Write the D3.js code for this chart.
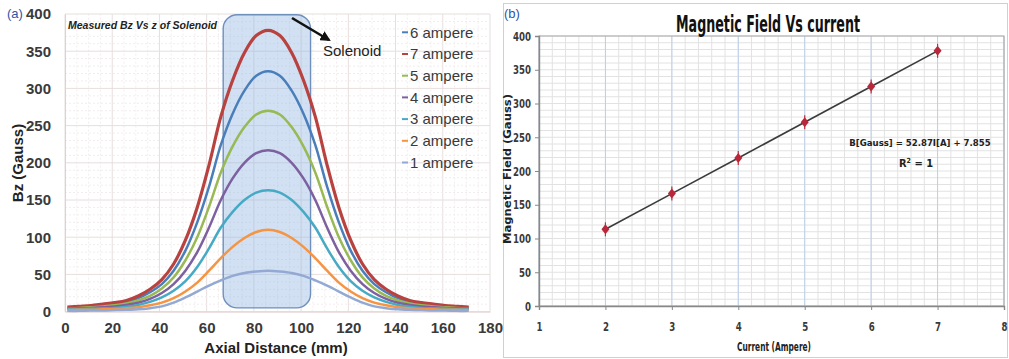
<!DOCTYPE html>
<html><head><meta charset="utf-8">
<script src="https://cdn.jsdelivr.net/npm/d3@7"></script>
<style>
body{margin:0;background:#fff;}
svg{display:block;}
</style></head>
<body>
<svg id="c" width="1009" height="359"></svg>
<script>
// ---------- Data: panel (a) ----------
const axialX = [1,6,11,16,21,26,31,36,41,46,51,56,61,66,71,76,81,86,91,96,101,106,111,116,121,126,131,136,141,146,151,156,161,166,171];
const amp6 = [5,6,7,8.5,10,13,18,26,37,55,82,120,168,224,266,297,317,323,317,297,266,224,168,120,82,55,37,26,18,13,10,8.5,7,6,5];
const amp7 = [6,7,8,10,12,15,21,30,43,64,96,140,197,262,311,348,371,378,371,348,311,262,197,140,96,64,43,30,21,15,12,10,8,7,6];
const amp5 = [4.5,5,6,7,8.5,11,15,21,31,46,69,100,141,187,222,248,265,270,265,248,222,187,141,100,69,46,31,21,15,11,8.5,7,6,5,4.5];
const amp4 = [4,4.5,5,6,7,9,12,17,25,37,55,80,113,150,179,200,213,217,213,200,179,150,113,80,55,37,25,17,12,9,7,6,5,4.5,4];
const amp3 = [3,3.5,4,4.5,5,6.5,9,13,19,28,41,60,85,113,134,150,160,163,160,150,134,113,85,60,41,28,19,13,9,6.5,5,4.5,4,3.5,3];
const amp2 = [2,2.5,2.5,3,3.5,4.5,6,8.5,12,18,27,39,55,72,87,99,107,110,107,99,87,72,55,39,27,18,12,8.5,6,4.5,3.5,3,2.5,2.5,2];
const amp1 = [1,1,1.5,1.5,2,2.5,3,4.5,7,12,19,27,35,42,48,52,54,55,54,52,48,42,35,27,19,12,7,4.5,3,2.5,2,1.5,1.5,1,1];
const seriesNames = ["6 ampere","7 ampere","5 ampere","4 ampere","3 ampere","2 ampere","1 ampere"];
const seriesValues = [amp6, amp7, amp5, amp4, amp3, amp2, amp1];
const seriesColors = ["#4a7ebb","#b8423f","#98b954","#7d60a0","#46aac5","#f59443","#93a9d3"];
const xTicksA = [0,20,40,60,80,100,120,140,160,180];
const yTicksA = [0,50,100,150,200,250,300,350,400];
const solenoidX = [67,104];
const solenoidY = [5,399];

// ---------- Data: panel (b) ----------
const currentA = [2,3,4,5,6,7];
const fieldG = [113.6,166.5,219.3,272.2,325.1,378.0];
const xTicksB = [1,2,3,4,5,6,7,8];
const yTicksB = [0,50,100,150,200,250,300,350,400];

const svg = d3.select("#c");
const fontA = "'Liberation Sans', Arial, sans-serif";
const fontB = "'Liberation Sans Narrow','DejaVu Sans Condensed','Liberation Sans',sans-serif";

// ================= Panel (a) =================
const xA = d3.scaleLinear().domain([0,180]).range([65,490]);
const yA = d3.scaleLinear().domain([0,400]).range([311.6,14]);
const gA = svg.append("g");

// grid
const minorX = d3.range(0,181,5), minorY = d3.range(0,401,10);
gA.append("g").selectAll("line").data(minorX).join("line")
  .attr("x1",d=>xA(d)).attr("x2",d=>xA(d)).attr("y1",yA(0)).attr("y2",yA(400))
  .attr("stroke",d=>d%20===0?"#e8dede":"#f2eded").attr("stroke-width",1).attr("stroke-dasharray",d=>d%20===0?null:"2,2");
gA.append("g").selectAll("line").data(minorY).join("line")
  .attr("x1",xA(0)).attr("x2",xA(180)).attr("y1",d=>yA(d)).attr("y2",d=>yA(d))
  .attr("stroke",d=>d%50===0?"#e8dede":"#f2eded").attr("stroke-width",1).attr("stroke-dasharray",d=>d%50===0?null:"2,2");

// solenoid box (behind the curves)
gA.append("rect")
  .attr("x",xA(solenoidX[0])).attr("y",yA(solenoidY[1]))
  .attr("width",xA(solenoidX[1])-xA(solenoidX[0])).attr("height",yA(solenoidY[0])-yA(solenoidY[1]))
  .attr("rx",14).attr("ry",14)
  .attr("fill","#8db4e2").attr("fill-opacity",0.4)
  .attr("stroke","#6f8fbd").attr("stroke-width",1.4);

// axes
const axA_x = gA.append("g").attr("transform",`translate(0,${yA(0)})`)
  .call(d3.axisBottom(xA).tickValues(xTicksA).tickSize(0).tickPadding(11));
const axA_y = gA.append("g").attr("transform",`translate(${xA(0)},0)`)
  .call(d3.axisLeft(yA).tickValues(yTicksA).tickSize(0).tickPadding(14));
[axA_x,axA_y].forEach(a=>{
  a.select(".domain").attr("stroke","#e3cfcf");
  a.selectAll("text").attr("font-family",fontA).attr("font-size",15).attr("font-weight","bold").attr("fill","#3a3a3a");
});

// lines
const lineA = d3.line().x((d,i)=>xA(axialX[i])).y(d=>yA(d)).curve(d3.curveCatmullRom);
gA.append("g").selectAll("path").data(seriesValues).join("path")
  .attr("d",d=>lineA(d)).attr("fill","none")
  .attr("stroke",(d,i)=>seriesColors[i]).attr("stroke-width",(d,i)=>i===1?3.2:2.5)
  .attr("stroke-linejoin","round");

// arrow
const defs = svg.append("defs");
defs.append("marker").attr("id","ah").attr("viewBox","0 0 10 10").attr("refX",8).attr("refY",5)
  .attr("markerWidth",4).attr("markerHeight",4).attr("orient","auto")
  .append("path").attr("d","M0,0 L10,5 L0,10 z").attr("fill","#111");
gA.append("line").attr("x1",292).attr("y1",18).attr("x2",329).attr("y2",40)
  .attr("stroke","#111").attr("stroke-width",2.6).attr("marker-end","url(#ah)");
gA.append("text").attr("x",323).attr("y",56).text("Solenoid")
  .attr("font-family",fontA).attr("font-size",15).attr("fill","#222");

// title
gA.append("text").attr("x",68).attr("y",29).text("Measured Bz Vs z of Solenoid")
  .attr("font-family",fontA).attr("font-size",11.5).attr("font-weight","bold").attr("font-style","italic")
  .attr("fill","#222").attr("textLength",149).attr("lengthAdjust","spacingAndGlyphs");

// legend
const leg = gA.append("g").selectAll("g").data(seriesNames).join("g")
  .attr("transform",(d,i)=>`translate(402,${32.3+i*21.7})`);
leg.append("line").attr("x1",0).attr("x2",6).attr("y1",0).attr("y2",0)
  .attr("stroke",(d,i)=>seriesColors[i]).attr("stroke-width",2);
leg.append("text").attr("x",8).attr("y",0).attr("dy","0.35em").text(d=>d)
  .attr("font-family",fontA).attr("font-size",15).attr("fill","#3a3a3a");

// axis titles
gA.append("text").attr("x",276).attr("y",353).attr("text-anchor","middle").text("Axial Distance (mm)")
  .attr("font-family",fontA).attr("font-size",15).attr("font-weight","bold").attr("fill","#222");
gA.append("text").attr("transform","translate(23,163) rotate(-90)").attr("text-anchor","middle").text("Bz (Gauss)")
  .attr("font-family",fontA).attr("font-size",15).attr("font-weight","bold").attr("fill","#222");
gA.append("text").attr("x",7).attr("y",18).text("(a)")
  .attr("font-family",fontA).attr("font-size",13).attr("fill","#2f55a4");

// ================= Panel (b) =================
const gB = svg.append("g");
gB.append("rect").attr("x",503.5).attr("y",3.5).attr("width",504).attr("height",354)
  .attr("fill","#fff").attr("stroke","#d0d0d0");
const xB = d3.scaleLinear().domain([1,8]).range([539,1004]);
const yB = d3.scaleLinear().domain([0,400]).range([306,36]);

// grid
gB.append("g").selectAll("line").data(d3.range(1,8.01,0.2)).join("line")
  .attr("x1",d=>xB(d)).attr("x2",d=>xB(d)).attr("y1",yB(0)).attr("y2",yB(400))
  .attr("stroke","#e2e2e2");
gB.append("g").selectAll("line").data(d3.range(0,401,10)).join("line")
  .attr("x1",xB(1)).attr("x2",xB(8)).attr("y1",d=>yB(d)).attr("y2",d=>yB(d))
  .attr("stroke","#e2e2e2");
gB.append("g").selectAll("line").data(xTicksB).join("line")
  .attr("x1",d=>xB(d)).attr("x2",d=>xB(d)).attr("y1",yB(0)).attr("y2",yB(400))
  .attr("stroke","#bcd0ea");
gB.append("rect").attr("x",xB(1)).attr("y",yB(400)).attr("width",xB(8)-xB(1)).attr("height",yB(0)-yB(400))
  .attr("fill","none").attr("stroke","#a8a8a8");

const axB_x = gB.append("g").attr("transform",`translate(0,${yB(0)})`)
  .call(d3.axisBottom(xB).tickValues(xTicksB).tickFormat(d3.format("d")).tickSize(4).tickPadding(12));
const axB_y = gB.append("g").attr("transform",`translate(${xB(1)},0)`)
  .call(d3.axisLeft(yB).tickValues(yTicksB).tickFormat(d3.format("d")).tickSize(4).tickPadding(4));
[axB_x,axB_y].forEach(a=>{
  a.select(".domain").attr("stroke","#888").attr("stroke-width",1.4);
  a.selectAll(".tick line").attr("stroke","#888");
  a.selectAll("text").attr("font-family",fontB).attr("font-size",13).attr("font-weight","bold").attr("fill","#3a3a3a")
    .attr("textLength",function(){return this.textContent.length*6;}).attr("lengthAdjust","spacingAndGlyphs");
});

// fit line and markers
const lineB = d3.line().x((d,i)=>xB(currentA[i])).y(d=>yB(d));
gB.append("path").attr("d",lineB(fieldG)).attr("fill","none").attr("stroke","#3b3b3b").attr("stroke-width",1.6);
const pts = gB.append("g").selectAll("g").data(fieldG).join("g")
  .attr("transform",(d,i)=>`translate(${xB(currentA[i])},${yB(d)})`);
pts.append("line").attr("y1",-7).attr("y2",7).attr("stroke","#c0303e").attr("stroke-width",1.2);
pts.append("path").attr("d","M0,-5 L4,0 L0,5 L-4,0 Z").attr("fill","#b8283a");

// title and labels
gB.append("text").attr("x",768).attr("y",32).attr("text-anchor","middle").text("Magnetic Field Vs current")
  .attr("font-family",fontB).attr("font-size",23).attr("font-weight","bold").attr("fill","#111")
  .attr("textLength",184).attr("lengthAdjust","spacingAndGlyphs");
gB.append("text").attr("x",920).attr("y",146).attr("text-anchor","middle").text("B[Gauss] = 52.87I[A] + 7.855")
  .attr("font-family",fontB).attr("font-size",9.5).attr("font-weight","bold").attr("fill","#222");
const r2 = gB.append("text").attr("x",916).attr("y",167).attr("text-anchor","middle")
  .attr("font-family",fontB).attr("font-size",11).attr("font-weight","bold").attr("fill","#222");
r2.append("tspan").text("R");
r2.append("tspan").attr("dy",-4).attr("font-size",7).text("2");
r2.append("tspan").attr("dy",4).text(" = 1");
gB.append("text").attr("x",774).attr("y",351).attr("text-anchor","middle").text("Current (Ampere)")
  .attr("font-family",fontB).attr("font-size",12).attr("font-weight","bold").attr("fill","#222")
  .attr("textLength",74).attr("lengthAdjust","spacingAndGlyphs");
gB.append("text").attr("transform","translate(511,169) rotate(-90)").attr("text-anchor","middle").text("Magnetic Field (Gauss)")
  .attr("font-family",fontB).attr("font-size",11).attr("font-weight","bold").attr("fill","#222")
  .attr("textLength",150).attr("lengthAdjust","spacingAndGlyphs");
gB.append("text").attr("x",504).attr("y",18).text("(b)")
  .attr("font-family",fontA).attr("font-size",13).attr("fill","#2f55a4");
</script>
</body></html>
